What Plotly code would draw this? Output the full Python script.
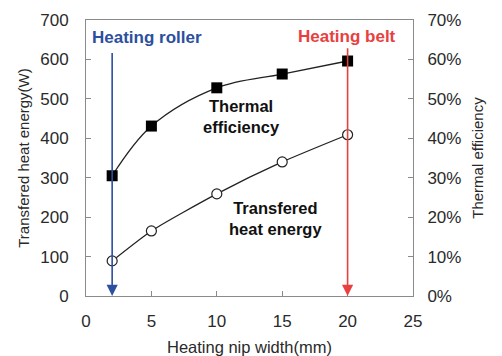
import plotly.graph_objects as go

nip_width = [2, 5, 10, 15, 20]
heat_energy = [89, 165, 259, 340, 409]
thermal_eff = [0.305, 0.431, 0.528, 0.563, 0.596]

x_ticks = [0, 5, 10, 15, 20, 25]
y_ticks = [0, 100, 200, 300, 400, 500, 600, 700]
y2_ticks = [0, 0.1, 0.2, 0.3, 0.4, 0.5, 0.6, 0.7]

roller_x = 2
belt_x = 20

FONT = "Liberation Sans, Arial, sans-serif"
BLUE = "#2c4f9e"
RED = "#e8403f"
GRAY = "#8a8a8a"
TXT = "#2a2a2a"

fig = go.Figure()
fig.add_trace(go.Scatter(
    x=nip_width, y=heat_energy, mode="lines+markers",
    line=dict(color="#222", width=1.3, shape="spline", smoothing=0.6),
    marker=dict(symbol="circle", size=10, color="white", line=dict(color="#222", width=1.2)),
    showlegend=False))
fig.add_trace(go.Scatter(
    x=nip_width, y=thermal_eff, mode="lines+markers", yaxis="y2",
    line=dict(color="#222", width=1.3, shape="spline", smoothing=1.0),
    marker=dict(symbol="square", size=11, color="black"),
    showlegend=False))

fig.update_layout(
    width=502, height=356,
    margin=dict(l=78, r=97, t=12, b=68),
    paper_bgcolor="white", plot_bgcolor="white",
    font=dict(family=FONT, color=TXT),
    xaxis=dict(range=[0, 25], tickvals=x_ticks, ticks="inside", ticklen=5, tickcolor=GRAY,
               showgrid=False, zeroline=False, showline=True, linecolor=GRAY, mirror=True,
               ticklabelstandoff=10, automargin=False,
               tickfont=dict(size=17), title=dict(text="Heating nip width(mm)", font=dict(size=16.5), standoff=11)),
    yaxis=dict(range=[0, 700], tickvals=y_ticks, ticks="inside", ticklen=5, tickcolor=GRAY,
               showgrid=False, zeroline=False, showline=True, linecolor=GRAY,
               ticklabelstandoff=13, automargin=False,
               tickfont=dict(size=17), title=dict(text="Transfered heat energy(W)", font=dict(size=15), standoff=6)),
    yaxis2=dict(range=[0, 0.7], tickvals=y2_ticks, tickformat=".0%", overlaying="y", side="right",
                ticks="inside", ticklen=5, tickcolor=GRAY, showgrid=False, zeroline=False,
                showline=True, linecolor=GRAY, ticklabelstandoff=10, automargin=False,
                tickfont=dict(size=17), title=dict(text="Thermal efficiency", font=dict(size=15), standoff=12)),
)

fig.add_annotation(x=roller_x, y=0, ax=roller_x, ay=620, xref="x", yref="y", axref="x", ayref="y",
                   showarrow=True, arrowhead=2, arrowsize=1.4, arrowwidth=1.6, arrowcolor=BLUE, text="")
fig.add_annotation(x=belt_x, y=0, ax=belt_x, ay=632, xref="x", yref="y", axref="x", ayref="y",
                   showarrow=True, arrowhead=2, arrowsize=1.4, arrowwidth=1.6, arrowcolor=RED, text="")
fig.add_annotation(x=4.7, y=655, xref="x", yref="y", text="<b>Heating roller</b>", showarrow=False,
                   font=dict(size=17, color=BLUE))
fig.add_annotation(x=19.95, y=659, xref="x", yref="y", text="<b>Heating belt</b>", showarrow=False,
                   font=dict(size=17, color=RED))
fig.add_annotation(x=11.9, y=455, xref="x", yref="y", text="<b>Thermal<br>efficiency</b>", showarrow=False,
                   font=dict(size=16.5, color="#111"))
fig.add_annotation(x=14.45, y=196, xref="x", yref="y", text="<b>Transfered<br>heat energy</b>", showarrow=False,
                   font=dict(size=16.5, color="#111"))

fig.write_html("out.html")
